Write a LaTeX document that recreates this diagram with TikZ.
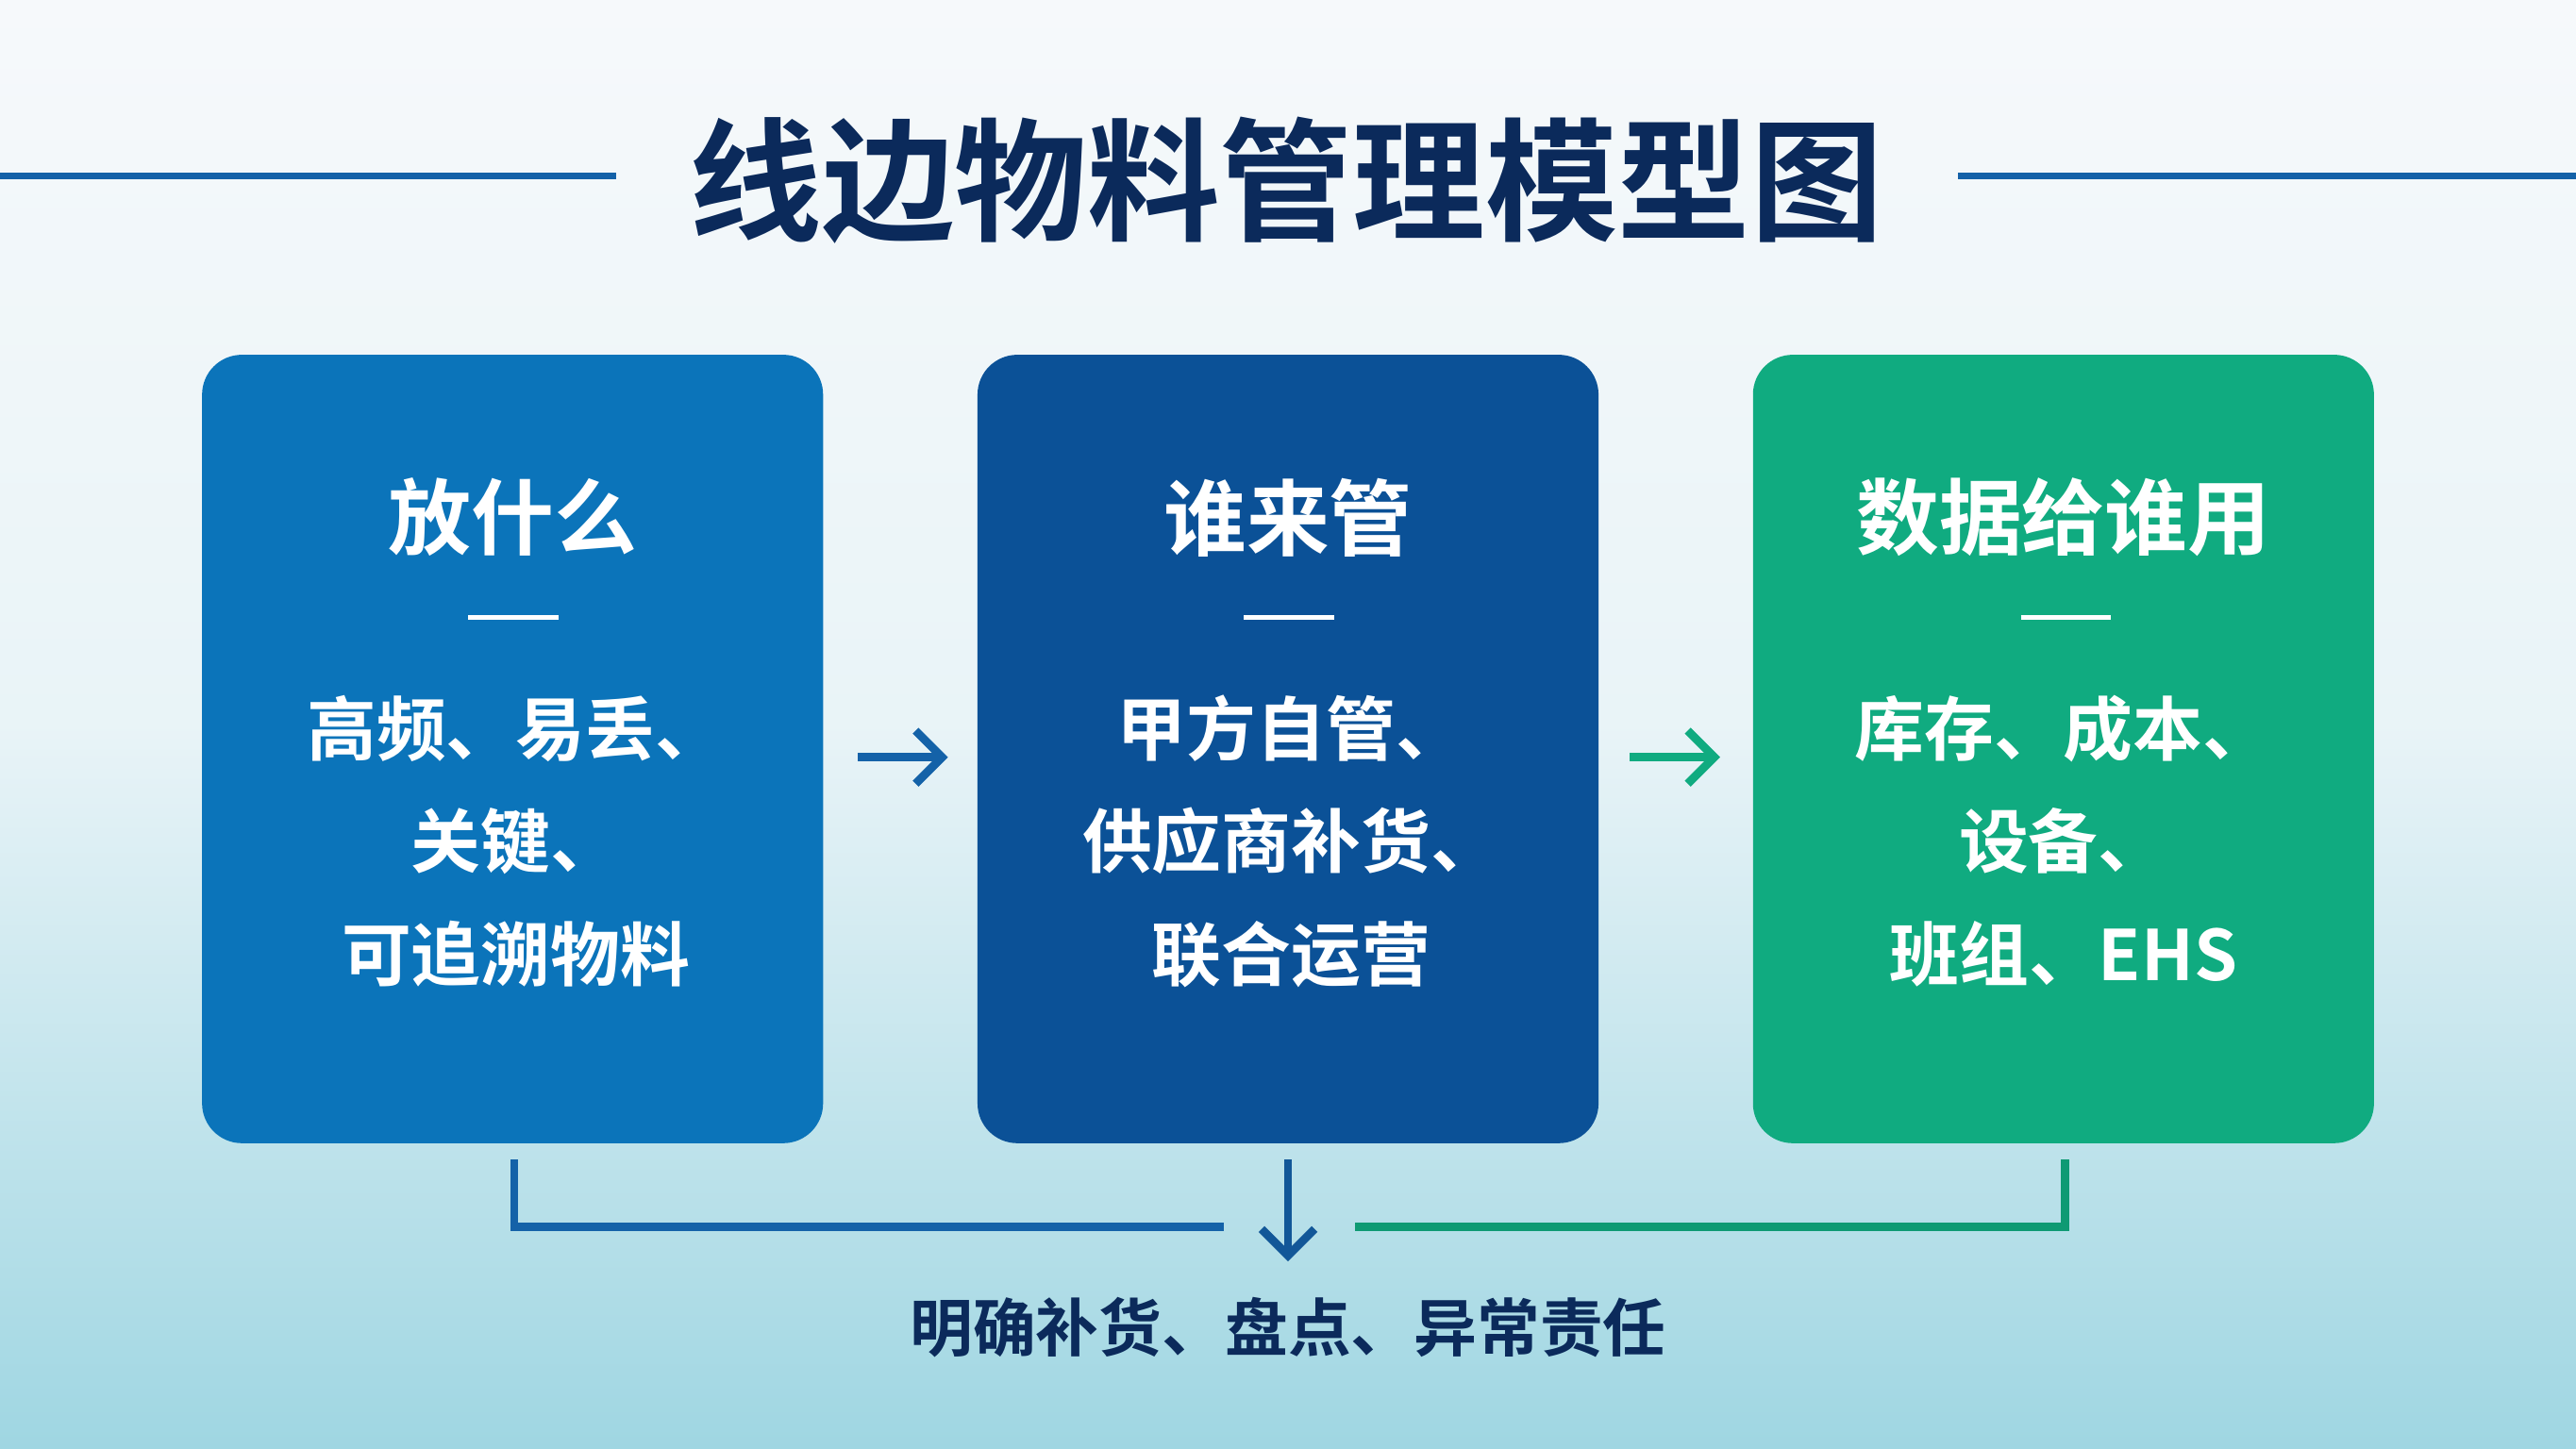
\documentclass[tikz,border=0pt]{standalone}
\usepackage{fontspec}
\setmainfont{Noto Sans CJK SC}[BoldFont={Noto Sans CJK SC Bold}]
\usetikzlibrary{arrows.meta}
\definecolor{navy}{HTML}{0B2A5B}
\definecolor{boxa}{HTML}{0B74BA}
\definecolor{boxb}{HTML}{0B5197}
\definecolor{boxc}{HTML}{10AB80}
\definecolor{linea}{HTML}{1462A8}
\definecolor{bgtop}{HTML}{F6F9FB}
\definecolor{bgbot}{HTML}{9FD6E2}
\tikzset{
	card/.style = {rounded corners=12pt, minimum width=378*0.017411cm,
		minimum height=480*0.017411cm},
	head/.style = {text=white, font=\bfseries\fontsize{25}{30}\selectfont},
	body/.style = {text=white, align=center,
		font=\bfseries\fontsize{21}{34}\selectfont},
	rule/.style = {white, line width=1.5pt},
	flow/.style = {-{Straight Barb[length=8pt,width=16pt]}, line width=2.5pt}
}
\begin{document}
\begin{tikzpicture}[x=0.017411cm,y=-0.017411cm]
		% background
		\shade[top color=bgtop, bottom color=bgbot, middle color=bgtop!85!bgbot]
			(0,0) rectangle (1568,882);
		\useasboundingbox (0,0) rectangle (1568,882);
		
		\node[text=navy, font=\bfseries\fontsize{40}{48}\selectfont] (title)
			at (783,110) {线边物料管理模型图};
		\coordinate (tl) at (0,107);
		\coordinate (tla) at (375,107);
		\coordinate (tra) at (1192,107);
		\coordinate (tr) at (1568,107);
		\draw[linea, line width=2pt] (tl) -- (tla);
		\draw[linea, line width=2pt] (tra) -- (tr);
		
		% cards
		\node[card, fill=boxa] (what) at (312,456) {};
		\node[card, fill=boxb] (who) at (784,456) {};
		\node[card, fill=boxc] (data) at (1256,456) {};
		
		\node[head] (whath) at (312,315) {放什么};
		\node[head] (whoh) at (784,315) {谁来管};
		\node[head] (datah) at (1256,315) {数据给谁用};
		
		\draw[rule] (285,376) -- (340,376);
		\draw[rule] (757,376) -- (812,376);
		\draw[rule] (1230,376) -- (1285,376);
		
		\node[body] (whatb) at (314,512) {高频、易丢、\\关键、\\可追溯物料};
		\node[body] (whob) at (786,512) {甲方自管、\\供应商补货、\\联合运营};
		\node[body] (datab) at (1256,512) {库存、成本、\\设备、\\班组、EHS};
		
		% steps
		\coordinate (s1) at (522,461);
		\coordinate (e1) at (577,461);
		\coordinate (s2) at (992,461);
		\coordinate (e2) at (1047,461);
		\draw[flow, linea] (s1) -- (e1);
		\draw[flow, boxc] (s2) -- (e2);
		
		% bottom
		\node[text=navy, font=\bfseries\fontsize{19}{23}\selectfont] (result)
			at (784,808) {明确补货、盘点、异常责任};
		\coordinate (ta) at (313,706);
		\coordinate (tb) at (784,706);
		\coordinate (tc) at (1257,706);
		\coordinate (la) at (745,747);
		\coordinate (ra) at (825,747);
		\coordinate (mb) at (784,768);
		\draw[linea, line width=2.5pt] (ta) |- (la);
		\draw[boxc!90!black, line width=2.5pt] (tc) |- (ra);
		\draw[linea!80!navy, flow] (tb) -- (mb);
	\end{tikzpicture}
\end{document}
